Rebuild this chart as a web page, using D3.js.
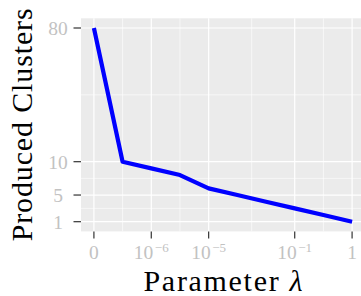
<!DOCTYPE html>
<html>
<head>
<meta charset="utf-8">
<script src="https://cdn.jsdelivr.net/npm/d3@7"></script>
<style>
  html, body { margin: 0; padding: 0; background: #fff; }
  svg { display: block; font-family: "Liberation Serif", "DejaVu Serif", serif; }
</style>
</head>
<body>
<svg id="chart"></svg>
<script>
// data
const stepIndex = [0, 1, 2, 3, 4, 5, 6, 7, 8, 9];
const clusters = [80, 10, 9, 8, 6, 5, 4, 3, 2, 1];
const lambdaTicks = [0, 2, 4, 7, 9];
const lambdaLabels = [["0", ""], ["10", "\u22126"], ["10", "\u22125"], ["10", "\u22121"], ["1", ""]];
const clusterTicks = [1, 5, 10, 80];

const width = 361, height = 296;
const panel = { left: 81, right: 365, top: 18.3, bottom: 231.4 };

const svg = d3.select("#chart").attr("width", width).attr("height", height);

const x = d3.scaleLinear().domain([-0.45, 9.45]).range([panel.left, panel.right]);
// y axis is squeezed above 10 (piecewise scale)
const y = d3.scaleLinear().domain([1, 10, 80]).range([221.7, 161.7, 28]);

// panel background
svg.append("rect")
    .attr("x", panel.left).attr("y", panel.top)
    .attr("width", panel.right - panel.left).attr("height", panel.bottom - panel.top)
    .attr("fill", "#ebebeb");

// minor grid = midpoints between majors
const xMinor = d3.pairs(lambdaTicks).map(([a, b]) => (a + b) / 2);
const yMinorPx = d3.pairs(clusterTicks.map(y)).map(([a, b]) => (a + b) / 2);

const grid = svg.append("g").attr("stroke", "#fff");
grid.selectAll(".xmin").data(xMinor).join("line")
    .attr("x1", d => x(d)).attr("x2", d => x(d))
    .attr("y1", panel.top).attr("y2", panel.bottom).attr("stroke-width", 0.6);
grid.selectAll(".ymin").data(yMinorPx).join("line")
    .attr("y1", d => d).attr("y2", d => d)
    .attr("x1", panel.left).attr("x2", panel.right).attr("stroke-width", 0.6);
grid.selectAll(".xmaj").data(lambdaTicks).join("line")
    .attr("x1", d => x(d)).attr("x2", d => x(d))
    .attr("y1", panel.top).attr("y2", panel.bottom).attr("stroke-width", 1.2);
grid.selectAll(".ymaj").data(clusterTicks).join("line")
    .attr("y1", d => y(d)).attr("y2", d => y(d))
    .attr("x1", panel.left).attr("x2", panel.right).attr("stroke-width", 1.2);

// line
const line = d3.line().x((d, i) => x(stepIndex[i])).y(d => y(d));
svg.append("path")
    .datum(clusters)
    .attr("d", line)
    .attr("fill", "none")
    .attr("stroke", "#0000ff")
    .attr("stroke-width", 4.2)
    .attr("stroke-linejoin", "round");

// y axis ticks + labels
const yAxis = svg.append("g");
yAxis.selectAll("line").data(clusterTicks).join("line")
    .attr("x1", panel.left - 7.5).attr("x2", panel.left)
    .attr("y1", d => y(d)).attr("y2", d => y(d))
    .attr("stroke", "#333").attr("stroke-width", 1.2);
yAxis.selectAll("text").data(clusterTicks).join("text")
    .attr("x", 58).attr("y", d => y(d))
    .attr("dy", "0.35em")
    .attr("text-anchor", "middle")
    .attr("font-size", 19.5)
    .attr("fill", "#c2c2c2")
    .text(d => d);

// x axis ticks + labels
const xAxis = svg.append("g");
xAxis.selectAll("line").data(lambdaTicks).join("line")
    .attr("x1", d => x(d)).attr("x2", d => x(d))
    .attr("y1", panel.bottom).attr("y2", panel.bottom + 7)
    .attr("stroke", "#333").attr("stroke-width", 1.2);
const xl = xAxis.selectAll("text").data(lambdaTicks).join("text")
    .attr("x", d => x(d)).attr("y", 259.3)
    .attr("text-anchor", "middle")
    .attr("font-size", 19.5)
    .attr("fill", "#c2c2c2");
xl.append("tspan").text((d, i) => lambdaLabels[i][0]);
xl.append("tspan")
    .attr("font-size", 13)
    .attr("dy", -7.5)
    .attr("dx", 1.5)
    .text((d, i) => lambdaLabels[i][1]);

// titles
svg.append("text")
    .attr("x", (panel.left + panel.right) / 2)
    .attr("y", 291)
    .attr("text-anchor", "middle")
    .attr("font-size", 30)
    .attr("fill", "#000")
    .attr("textLength", 159)
    .attr("lengthAdjust", "spacing")
    .html("Parameter <tspan font-style=\"italic\">\u03bb</tspan>");

svg.append("text")
    .attr("transform", `translate(31.5,${(panel.top + panel.bottom) / 2}) rotate(-90)`)
    .attr("text-anchor", "middle")
    .attr("font-size", 30)
    .attr("fill", "#000")
    .attr("textLength", 233)
    .attr("lengthAdjust", "spacing")
    .text("Produced Clusters");
</script>
</body>
</html>
